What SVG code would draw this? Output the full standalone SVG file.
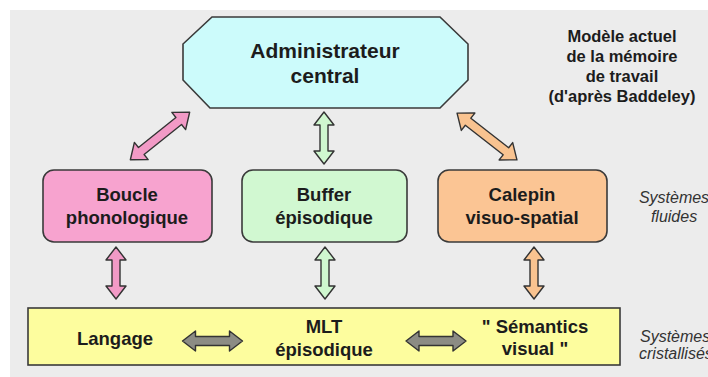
<svg xmlns="http://www.w3.org/2000/svg" width="708" height="377" viewBox="0 0 708 377">
<style>
text{font-family:"Liberation Sans",Arial,sans-serif;fill:#1c1c1c}
.b{font-weight:bold;text-anchor:middle}
.big{font-size:21px}
.mid{font-size:18.5px}
.note{font-size:16.5px}
.it{font-style:italic;font-size:16px;fill:#333}
.box{stroke:#3a3a3a;stroke-width:1.6}
.arr{stroke:#333;stroke-width:1.4;stroke-linejoin:round}
.pink{fill:#f29ac6}
.green{fill:#cff7cf}
.orange{fill:#f9c390}
.gray{fill:#8c8c84}
</style>
<defs>
<polygon id="a50" points="-26,0 -13,-10 -13,-4 13,-4 13,-10 26,0 13,10 13,4 -13,4 -13,10"/>
<polygon id="a76" points="-38,0 -24,-11 -24,-4.5 24,-4.5 24,-11 38,0 24,11 24,4.5 -24,4.5 -24,11"/>
<polygon id="a60" points="-30,0 -17,-10 -17,-4.5 17,-4.5 17,-10 30,0 17,10 17,4.5 -17,4.5 -17,10"/>
</defs>
<rect x="0" y="0" width="708" height="377" fill="#ffffff"/>
<rect x="10" y="10" width="698" height="367" fill="#ececec"/>

<g id="admin">
<polygon class="box" fill="#ccfbfb" points="212,17 440,17 468,44 468,80 440,108 210,108 183,80 183,44"/>
<text class="b big" x="325" y="58">Administrateur</text>
<text class="b big" x="325" y="83">central</text>
</g>

<g id="title">
<text class="b note" x="622" y="42">Modèle actuel</text>
<text class="b note" x="622" y="62">de la mémoire</text>
<text class="b note" x="622" y="82">de travail</text>
<text class="b note" x="622" y="102">(d'après Baddeley)</text>
</g>

<g id="boucle">
<rect class="box" x="43" y="170" width="169" height="72" rx="11" fill="#f7a3cf"/>
<text class="b mid" x="127" y="201">Boucle</text>
<text class="b mid" x="127" y="224">phonologique</text>
</g>

<g id="buffer">
<rect class="box" x="242" y="170" width="165" height="72" rx="11" fill="#d1f8d1"/>
<text class="b mid" x="324" y="201">Buffer</text>
<text class="b mid" x="324" y="224">épisodique</text>
</g>

<g id="calepin">
<rect class="box" x="438" y="170" width="169" height="72" rx="11" fill="#fbc594"/>
<text class="b mid" x="522" y="201">Calepin</text>
<text class="b mid" x="522" y="224">visuo-spatial</text>
</g>

<g id="fluides">
<text class="it" x="674" y="203" text-anchor="middle">Systèmes</text>
<text class="it" x="674" y="222" text-anchor="middle">fluides</text>
</g>

<g id="mlt">
<rect class="box" x="28" y="308" width="592" height="57" fill="#fdfd9e"/>
<text class="b mid" x="115" y="345">Langage</text>
<text class="b mid" x="324" y="333">MLT</text>
<text class="b mid" x="324" y="356">épisodique</text>
<text class="b mid" x="535" y="333">" Sémantics</text>
<text class="b mid" x="535" y="355">visual "</text>
</g>

<g id="cristallises">
<text class="it" x="640" y="342">Systèmes</text>
<text class="it" x="639" y="359">cristallisés</text>
</g>

<g id="connectors">
<use href="#a76" class="arr pink" transform="translate(160,136) rotate(-38.7)"/>
<use href="#a76" class="arr orange" transform="translate(487,136.5) rotate(38)"/>
<use href="#a50" class="arr green" transform="translate(324,138) rotate(90)"/>
<use href="#a50" class="arr pink" transform="translate(116,273) rotate(90)"/>
<use href="#a50" class="arr green" transform="translate(325,273) rotate(90)"/>
<use href="#a50" class="arr orange" transform="translate(534,273) rotate(90)"/>
<use href="#a60" class="arr gray" transform="translate(212.5,341)"/>
<use href="#a60" class="arr gray" transform="translate(436,341)"/>
</g>
</svg>
